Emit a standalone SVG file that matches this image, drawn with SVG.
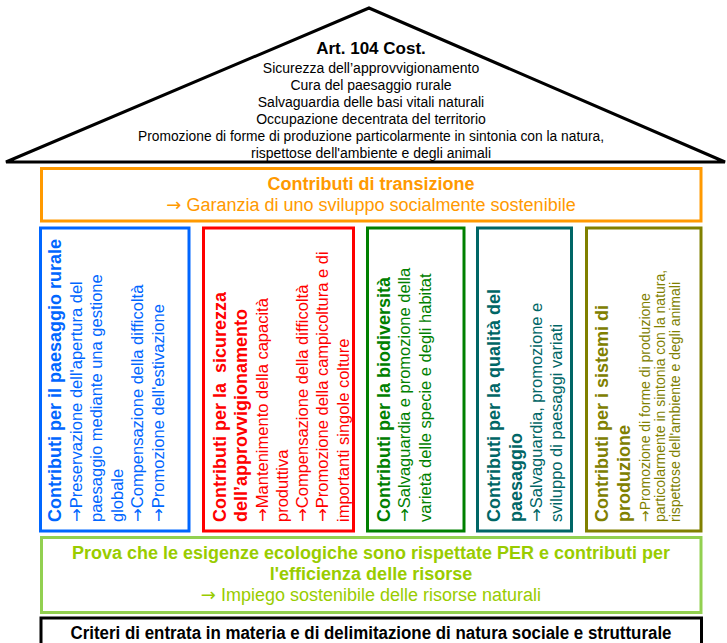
<svg xmlns="http://www.w3.org/2000/svg" width="727" height="643" viewBox="0 0 727 643">
<style>
text{font-family:"Liberation Sans",Arial,sans-serif}
.a{font-family:"DejaVu Sans",sans-serif}
.c{text-anchor:middle}
.r{font-size:14px}
.h{font-weight:bold;font-size:18px}
.m{font-size:18px}
.b{font-size:16.5px}
.s{font-size:14px}
.box{fill:none;stroke-width:3}
.blue{fill:#0066FF}.red{fill:#FF0000}.green{fill:#008000}.teal{fill:#006666}.olive{fill:#808000}.orange{fill:#FF9900}.lime{fill:#99CC00}
</style>
<rect width="727" height="643" fill="#fff"/>
<g id="roof">
<polygon points="369,8 6,162 725,162" fill="#fff" stroke="#000" stroke-width="3"/>
<text class="c h" x="371" y="54" style="font-size:17px">Art. 104 Cost.</text>
<text class="c r" x="371" y="73">Sicurezza dell’approvvigionamento</text>
<text class="c r" x="371" y="90">Cura del paesaggio rurale</text>
<text class="c r" x="371" y="107">Salvaguardia delle basi vitali naturali</text>
<text class="c r" x="371" y="124">Occupazione decentrata del territorio</text>
<text class="c r" x="371" y="141" textLength="466" lengthAdjust="spacingAndGlyphs">Promozione di forme di produzione particolarmente in sintonia con la natura,</text>
<text class="c r" x="371" y="158">rispettose dell'ambiente e degli animali</text>
</g>
<g id="transizione">
<rect x="41.5" y="168.5" width="659.5" height="52.5" class="box" stroke="#FF9900"/>
<text class="c h orange" x="371" y="190">Contributi di transizione</text>
<text class="c m orange" x="371" y="211"><tspan class="a">→</tspan> Garanzia di uno sviluppo socialmente sostenibile</text>
</g>
<g id="col-paesaggio" class="blue">
<rect x="40.5" y="228" width="148.5" height="303" class="box" stroke="#0066FF"/>
<text class="h" transform="translate(61,522) rotate(-90)">Contributi per il paesaggio rurale</text>
<text class="b" transform="translate(81.5,522) rotate(-90)"><tspan class="a">→</tspan>Preservazione dell'apertura del</text>
<text class="b" transform="translate(102,522) rotate(-90)">paesaggio mediante una gestione</text>
<text class="b" transform="translate(122.5,522) rotate(-90)">globale</text>
<text class="b" transform="translate(143,522) rotate(-90)"><tspan class="a">→</tspan>Compensazione della difficoltà</text>
<text class="b" transform="translate(163.5,522) rotate(-90)"><tspan class="a">→</tspan>Promozione dell'estivazione</text>
</g>
<g id="col-sicurezza" class="red">
<rect x="203.5" y="228" width="150" height="303" class="box" stroke="#FF0000"/>
<text class="h" transform="translate(226,522) rotate(-90)" xml:space="preserve">Contributi per la  sicurezza</text>
<text class="h" transform="translate(247,522) rotate(-90)">dell’approvvigionamento</text>
<text class="b" transform="translate(267.5,522) rotate(-90)"><tspan class="a">→</tspan>Mantenimento della capacità</text>
<text class="b" transform="translate(288,522) rotate(-90)">produttiva</text>
<text class="b" transform="translate(308,522) rotate(-90)"><tspan class="a">→</tspan>Compensazione della difficoltà</text>
<text class="b" transform="translate(328,522) rotate(-90)"><tspan class="a">→</tspan>Promozione della campicoltura e di</text>
<text class="b" transform="translate(348.5,522) rotate(-90)">importanti singole colture</text>
</g>
<g id="col-biodiversita" class="green">
<rect x="367.5" y="228" width="96.5" height="303" class="box" stroke="#008000"/>
<text class="h" transform="translate(389.5,522) rotate(-90)">Contributi per la biodiversità</text>
<text class="b" transform="translate(410,522) rotate(-90)"><tspan class="a">→</tspan>Salvaguardia e promozione della</text>
<text class="b" transform="translate(431,522) rotate(-90)">varietà delle specie e degli habitat</text>
</g>
<g id="col-qualita" class="teal">
<rect x="477.5" y="228" width="94" height="303" class="box" stroke="#006666"/>
<text class="h" transform="translate(499.5,522) rotate(-90)">Contributi per la qualità del</text>
<text class="h" transform="translate(521.5,522) rotate(-90)">paesaggio</text>
<text class="b" transform="translate(542,522) rotate(-90)"><tspan class="a">→</tspan>Salvaguardia, promozione e</text>
<text class="b" transform="translate(562,522) rotate(-90)">sviluppo di paesaggi variati</text>
</g>
<g id="col-sistemi" class="olive">
<rect x="586.5" y="228" width="114.5" height="303" class="box" stroke="#808000"/>
<text class="h" transform="translate(608,522) rotate(-90)">Contributi per i sistemi di</text>
<text class="h" transform="translate(630,522) rotate(-90)">produzione</text>
<text class="s" transform="translate(650,522) rotate(-90)"><tspan class="a">→</tspan>Promozione di forme di produzione</text>
<text class="s" transform="translate(665,522) rotate(-90)">particolarmente in sintonia con la natura,</text>
<text class="s" transform="translate(680,522) rotate(-90)">rispettose dell'ambiente e degli animali</text>
</g>
<g id="per">
<rect x="41.5" y="537.5" width="659.5" height="75" class="box" stroke="#92D050"/>
<text class="c h lime" x="371" y="559">Prova che le esigenze ecologiche sono rispettate PER e contributi per</text>
<text class="c h lime" x="371" y="580">l'efficienza delle risorse</text>
<text class="c m lime" x="371" y="601"><tspan class="a">→</tspan> Impiego sostenibile delle risorse naturali</text>
</g>
<g id="criteri">
<rect x="41" y="618" width="660.5" height="40" class="box" stroke="#000"/>
<text class="c h" x="371" y="639" textLength="601" lengthAdjust="spacingAndGlyphs">Criteri di entrata in materia e di delimitazione di natura sociale e strutturale</text>
</g>
<g id="connectors"/>
</svg>
